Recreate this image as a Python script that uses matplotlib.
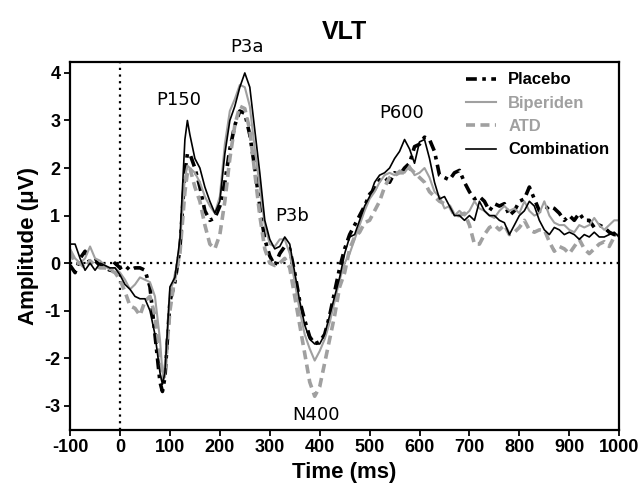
import numpy as np
import matplotlib
matplotlib.use("Agg")
import matplotlib.pyplot as plt

# time points (ms)
time_ms = [-100, -90, -80, -70, -60, -50, -40, -30, -20, -10,
           0, 10, 20, 30, 40, 50, 60, 70, 80, 85,
           90, 100, 110, 120, 130, 135, 140, 150, 160, 170,
           180, 190, 200, 210, 220, 230, 240, 250, 260, 270,
           280, 290, 300, 310, 320, 330, 340, 350, 360, 370,
           380, 390, 400, 410, 420, 430, 440, 450, 460, 470,
           480, 490, 500, 510, 520, 530, 540, 550, 560, 570,
           580, 590, 600, 610, 620, 630, 640, 650, 660, 670,
           680, 690, 700, 710, 720, 730, 740, 750, 760, 770,
           780, 790, 800, 810, 820, 830, 840, 850, 860, 870,
           880, 890, 900, 910, 920, 930, 940, 950, 960, 970,
           980, 990, 1000]

placebo = [-0.05, -0.2, 0.1, 0.25, 0.0, 0.05, -0.05, -0.1, -0.15, 0.0,
           -0.1, -0.05, -0.15, -0.1, -0.1, -0.15, -0.5, -1.5, -2.5, -2.7,
           -2.4, -0.8, -0.4, 0.3, 1.9, 2.3, 2.3, 2.0, 1.6, 1.1,
           0.9, 0.95, 1.2, 1.7, 2.4, 2.9, 3.2, 3.15, 2.7, 2.0,
           1.2, 0.5, 0.15, -0.05, 0.2, 0.35, 0.3, -0.2, -0.8, -1.2,
           -1.55, -1.7, -1.65, -1.5, -1.1, -0.6, -0.1, 0.3, 0.6, 0.8,
           1.0, 1.2, 1.45, 1.55, 1.75, 1.8, 1.7, 1.9, 1.85, 2.0,
           2.1, 2.45, 2.5, 2.65, 2.6, 2.35, 1.85, 1.8, 1.75, 1.9,
           1.95, 1.7, 1.5, 1.35, 1.4, 1.3, 1.1, 1.25, 1.2, 1.25,
           1.0, 1.1, 1.3, 1.35, 1.6, 1.35, 1.1, 1.1, 1.2, 1.15,
           1.05, 0.9, 1.0, 0.9, 1.05, 0.9, 0.9, 0.75, 0.8, 0.75,
           0.65, 0.6, 0.6]

biperiden = [0.3, 0.1, 0.0, 0.1, 0.35, 0.1, 0.05, -0.05, -0.15, -0.1,
             -0.2, -0.35, -0.55, -0.45, -0.3, -0.35, -0.4, -0.7, -1.6, -2.3,
             -2.4, -0.6, -0.3, 0.4, 1.8, 2.05, 2.0, 1.9, 1.7, 1.4,
             1.2, 1.05, 1.4, 2.5, 3.2, 3.45, 3.75, 3.7, 3.3, 2.4,
             1.6, 0.8, 0.4, 0.35, 0.5, 0.5, 0.2, -0.4, -1.0, -1.5,
             -1.8, -2.05, -1.85, -1.6, -1.25, -0.8, -0.35, 0.0, 0.2, 0.5,
             0.8, 1.1, 1.35, 1.5, 1.7, 1.85, 1.9, 1.85, 1.95, 1.9,
             2.05, 1.85, 1.9, 2.0, 1.8, 1.5, 1.4, 1.15, 1.2, 1.0,
             1.1, 1.0, 1.1, 1.3, 1.15, 1.1, 1.0, 0.95, 1.1, 1.2,
             1.1, 1.15, 1.05, 1.3, 1.1, 1.0, 1.05, 1.3, 1.0, 0.85,
             0.8, 0.8, 0.7, 0.65, 0.8, 0.75, 0.8, 0.95, 0.8, 0.7,
             0.8, 0.9, 0.9]

atd = [0.25, 0.0, 0.0, -0.1, 0.05, -0.05, -0.1, -0.1, -0.15, -0.2,
       -0.35, -0.6, -0.9, -0.95, -1.1, -0.8, -0.7, -1.1, -2.1, -2.45,
       -2.3, -1.0, -0.3, 0.2, 1.5, 1.9, 2.0, 1.6, 1.3, 0.8,
       0.4, 0.3, 0.6, 1.3, 2.2, 2.9, 3.3, 3.25, 2.8, 1.9,
       1.0, 0.3, 0.0, -0.05, 0.0, 0.1, -0.1, -0.7, -1.3, -1.9,
       -2.5, -2.8, -2.6, -2.1, -1.6, -1.1, -0.5, -0.2, 0.3, 0.55,
       0.65, 0.85, 0.9, 1.1, 1.3, 1.6, 1.8, 1.85, 1.9, 1.9,
       2.0, 1.9, 1.8, 1.7, 1.5, 1.4, 1.3, 1.25, 1.2, 1.0,
       1.0, 1.05, 0.8, 0.4, 0.4, 0.6, 0.75, 0.8, 0.7, 0.8,
       0.6, 0.65, 0.75, 0.9, 0.7, 0.65, 0.7, 0.7, 0.45, 0.25,
       0.35, 0.3, 0.2, 0.35, 0.5, 0.3, 0.2, 0.3, 0.4, 0.45,
       0.35, 0.55, 0.6]

combination = [0.4, 0.4, 0.1, -0.15, 0.0, -0.15, 0.0, -0.05, -0.1, -0.1,
               -0.25, -0.45, -0.55, -0.7, -0.75, -0.75, -1.0, -1.5, -2.3, -2.55,
               -2.3, -0.5, -0.3, 0.5, 2.6, 3.0, 2.7, 2.2, 2.0, 1.6,
               1.3, 1.05, 1.3, 2.3, 3.0, 3.3, 3.7, 4.0, 3.7, 2.8,
               1.9, 0.9, 0.5, 0.3, 0.35, 0.55, 0.4, -0.2, -0.8, -1.3,
               -1.6, -1.7, -1.7, -1.5, -1.1, -0.7, -0.3, 0.2, 0.55, 0.6,
               0.9, 1.2, 1.4, 1.7, 1.85, 1.9, 2.0, 2.2, 2.35, 2.6,
               2.4, 2.1, 2.55, 2.6, 2.2, 1.7, 1.35, 1.4, 1.2, 1.0,
               1.0, 0.9, 1.0, 0.9, 1.3, 1.1, 1.0, 1.0, 0.9, 0.85,
               0.6, 0.8, 1.0, 1.1, 1.3, 1.2, 0.9, 0.7, 0.6, 0.75,
               0.7, 0.6, 0.65, 0.6, 0.5, 0.6, 0.55, 0.65, 0.55, 0.55,
               0.6, 0.65, 0.55]

peak_names = ["P150", "P3a", "P3b", "N400", "P600"]
peak_pos = [(118, 3.44), (255, 4.54), (344, 1.0), (392, -3.2), (565, 3.15)]

plt.rcParams['font.family'] = ['Liberation Sans', 'DejaVu Sans']
plt.rcParams['axes.unicode_minus'] = False

fig = plt.figure(figsize=(6.43, 4.92), dpi=100)
ax = fig.add_axes([0.109, 0.127, 0.854, 0.746])

gray = '#a0a0a0'
ax.plot(time_ms, placebo, color='black', linestyle=(0, (3, 1.5, 1, 1.5)), linewidth=2.6, label='Placebo')
ax.plot(time_ms, biperiden, color=gray, linestyle='-', linewidth=1.5, label='Biperiden')
ax.plot(time_ms, atd, color=gray, linestyle=(0, (2.5, 1.5)), linewidth=2.6, label='ATD')
ax.plot(time_ms, combination, color='black', linestyle='-', linewidth=1.2, label='Combination')

ax.axhline(0, color='black', linestyle=(0, (1, 2)), linewidth=1.6, zorder=0)
ax.axvline(0, color='black', linestyle=(0, (1, 2)), linewidth=1.6, zorder=0)

for name, (tx, ty) in zip(peak_names, peak_pos):
    ax.text(tx, ty, name, ha='center', va='center', fontsize=13,
            family='DejaVu Sans', clip_on=False)

ax.set_xlim(-100, 1000)
ax.set_ylim(-3.5, 4.22)
ax.set_xticks(range(-100, 1001, 100))
ax.set_yticks(range(-3, 5))
ax.tick_params(direction='out', length=4, width=1.3, labelsize=13, pad=3)
for lab in ax.get_xticklabels() + ax.get_yticklabels():
    lab.set_fontweight('bold')
for sp in ax.spines.values():
    sp.set_linewidth(1.6)

ax.set_xlabel('Time (ms)', fontsize=16, fontweight='bold', labelpad=4)
ax.set_ylabel('Amplitude (μV)', fontsize=16, fontweight='bold', labelpad=4)
ax.set_title('VLT', fontsize=18, fontweight='bold', pad=17)

leg = ax.legend(loc='upper right', frameon=False, fontsize=12, handlelength=1.8,
                borderaxespad=0.2, labelspacing=0.5, handletextpad=0.7)
for txt, c in zip(leg.get_texts(), ['black', gray, gray, 'black']):
    txt.set_color(c)
    txt.set_fontweight('bold')

plt.savefig("out.png", dpi=100)
